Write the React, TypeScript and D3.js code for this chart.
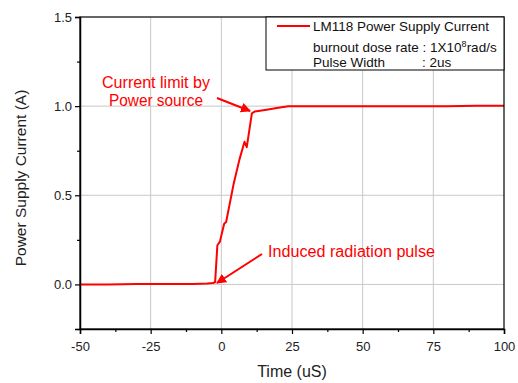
import { useEffect, useRef } from 'react';
import * as d3 from 'd3';

const timeUs = [-50, -40, -30, -20, -10, -5, -3, -2.2, -1.4, -0.5, 1.0, 1.7, 4.3, 6.4, 8.2, 9.0, 10.8, 11.9, 16, 19.6, 23.7, 30, 40, 50, 60, 70, 80, 90, 100];
const currentA = [0, 0, 0.002, 0.002, 0.003, 0.005, 0.008, 0.012, 0.22, 0.24, 0.34, 0.35, 0.56, 0.7, 0.8, 0.77, 0.96, 0.97, 0.98, 0.99, 1.0, 1.0, 1.0, 1.0, 1.0, 1.0, 1.0, 1.002, 1.002];

const xTicks = [-50, -25, 0, 25, 50, 75, 100];
const yTicks = [0, 0.5, 1.0, 1.5];

const FONT = 'Arial, "Liberation Sans", sans-serif';
const RED = '#ff0000';

export default function App() {
  const svgRef = useRef<SVGSVGElement>(null);

  useEffect(() => {
    const W = 518;
    const H = 383;
    const margin = { top: 17, right: 14, bottom: 54, left: 80 };
    const width = W - margin.left - margin.right;
    const height = H - margin.top - margin.bottom;

    const root = d3.select(svgRef.current);
    root.selectAll('*').remove();
    root.attr('width', W).attr('height', H);

    const defs = root.append('defs');
    defs.append('clipPath').attr('id', 'plot-clip')
      .append('rect').attr('width', width).attr('height', height);
    defs.append('marker')
      .attr('id', 'arrow')
      .attr('viewBox', '0 0 10 10')
      .attr('refX', 9).attr('refY', 5)
      .attr('markerWidth', 5).attr('markerHeight', 5)
      .attr('orient', 'auto')
      .append('path').attr('d', 'M0,0 L10,5 L0,10 Z').attr('fill', RED);

    const svg = root.append('g').attr('transform', `translate(${margin.left},${margin.top})`);

    const x = d3.scaleLinear().domain([-50, 100]).range([0, width]);
    const y = d3.scaleLinear().domain([-0.25, 1.5]).range([height, 0]);

    // grid lines
    svg.append('g').selectAll('line.vg')
      .data(xTicks.slice(1, -1))
      .join('line')
      .attr('x1', d => x(d)).attr('x2', d => x(d))
      .attr('y1', 0).attr('y2', height)
      .attr('stroke', '#c8c8c8').attr('stroke-width', 1);
    svg.append('g').selectAll('line.hg')
      .data(yTicks.slice(0, -1))
      .join('line')
      .attr('x1', 0).attr('x2', width)
      .attr('y1', d => y(d)).attr('y2', d => y(d))
      .attr('stroke', '#c8c8c8').attr('stroke-width', 1);

    // data line
    const pts = timeUs.map((t, i) => [t, currentA[i]] as [number, number]);
    svg.append('path')
      .datum(pts)
      .attr('clip-path', 'url(#plot-clip)')
      .attr('fill', 'none')
      .attr('stroke', RED)
      .attr('stroke-width', 2)
      .attr('stroke-linejoin', 'round')
      .attr('d', d3.line().x(d => x(d[0])).y(d => y(d[1])));

    // frame
    svg.append('rect')
      .attr('width', width).attr('height', height)
      .attr('fill', 'none').attr('stroke', '#000').attr('stroke-width', 1.2);

    // axes
    const xAxis = svg.append('g').attr('transform', `translate(0,${height})`)
      .call(d3.axisBottom(x).tickValues(xTicks).tickSize(5).tickFormat(d => String(d)));
    svg.append('g').attr('transform', `translate(0,${height})`)
      .call(d3.axisBottom(x).tickValues(d3.range(-37.5, 100, 25)).tickSize(3).tickFormat(() => ''))
      .select('.domain').remove();
    const yAxis = svg.append('g')
      .call(d3.axisLeft(y).tickValues(yTicks).tickSize(5).tickFormat(d3.format('.1f')));
    svg.append('g')
      .call(d3.axisLeft(y).tickValues([-0.25, 0.25, 0.75, 1.25]).tickSize(3).tickFormat(() => ''))
      .select('.domain').remove();

    [xAxis, yAxis].forEach(a => {
      a.select('.domain').attr('stroke-width', 1.5).attr('stroke', '#000');
      a.selectAll('text').attr('font-family', FONT).attr('font-size', 13).attr('fill', '#222');
    });
    xAxis.selectAll('text').attr('dy', '1.05em');
    root.selectAll('.tick line').attr('stroke-width', 1.2);

    // axis titles
    svg.append('text')
      .attr('x', width / 2).attr('y', height + 48)
      .attr('text-anchor', 'middle')
      .attr('font-family', FONT).attr('font-size', 16).attr('fill', '#222')
      .text('Time (uS)');
    root.append('text')
      .attr('transform', 'rotate(-90)')
      .attr('x', -178).attr('y', 26)
      .attr('text-anchor', 'middle')
      .attr('font-family', FONT).attr('font-size', 15.5).attr('fill', '#222')
      .text('Power Supply Current (A)');

    // legend
    const lg = root.append('g');
    lg.append('rect')
      .attr('x', 266).attr('y', margin.top)
      .attr('width', margin.left + width - 266).attr('height', 53)
      .attr('fill', '#fff').attr('stroke', '#000').attr('stroke-width', 1);
    lg.append('line')
      .attr('x1', 277).attr('x2', 310).attr('y1', 26).attr('y2', 26)
      .attr('stroke', RED).attr('stroke-width', 2);
    const lt = (tx: number, ty: number, s: string) => lg.append('text')
      .attr('x', tx).attr('y', ty)
      .attr('font-family', FONT).attr('font-size', 13.5).attr('fill', '#111')
      .text(s);
    lt(313, 31, 'LM118 Power Supply Current');
    const l2 = lt(313, 52, 'burnout dose rate : 1X10');
    l2.append('tspan').attr('font-size', 9).attr('dy', -5).text('8');
    l2.append('tspan').attr('dy', 5).text('rad/s');
    lt(313, 67, 'Pulse Width');
    lt(422, 67, ': 2us');

    // annotations
    const ann = root.append('g')
      .attr('font-family', FONT).attr('font-size', 16).attr('fill', RED);
    ann.append('text').attr('x', 102).attr('y', 88)
      .attr('textLength', 108).attr('lengthAdjust', 'spacingAndGlyphs').text('Current limit by');
    ann.append('text').attr('x', 109).attr('y', 106)
      .attr('textLength', 94).attr('lengthAdjust', 'spacingAndGlyphs').text('Power source');
    ann.append('text').attr('x', 268).attr('y', 257)
      .attr('textLength', 167).attr('lengthAdjust', 'spacingAndGlyphs').text('Induced radiation pulse');

    const arrow = (x1: number, y1: number, x2: number, y2: number) => root.append('line')
      .attr('x1', x1).attr('y1', y1).attr('x2', x2).attr('y2', y2)
      .attr('stroke', RED).attr('stroke-width', 2)
      .attr('marker-end', 'url(#arrow)');
    arrow(217, 98, 250, 111);
    arrow(262, 254, 217, 283);
  }, []);

  return (
    <div style={{ position: 'absolute', left: 0, top: 0 }}>
      <svg ref={svgRef}></svg>
    </div>
  );
}
